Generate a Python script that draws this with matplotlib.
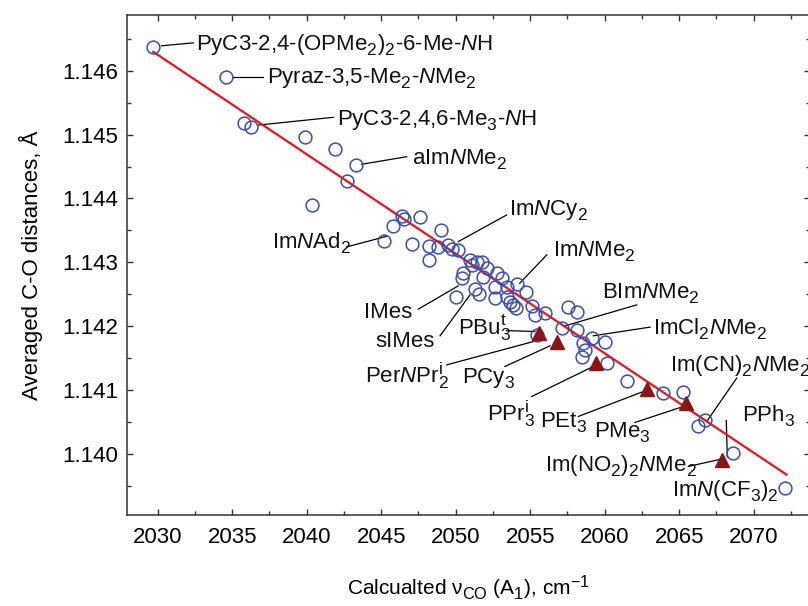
import matplotlib
matplotlib.use("Agg")
import matplotlib.pyplot as plt
import matplotlib._mathtext as mtext
from matplotlib.ticker import MultipleLocator, FormatStrFormatter

plt.rcParams["font.family"] = ["Liberation Sans", "DejaVu Sans"]
plt.rcParams["mathtext.fontset"] = "custom"
plt.rcParams["mathtext.rm"] = "Liberation Sans"
plt.rcParams["mathtext.it"] = "Liberation Sans:italic"
plt.rcParams["mathtext.bf"] = "Liberation Sans:bold"
# the original uses larger, lower-set subscripts
mtext.SHRINK_FACTOR = 0.78
mtext.FontConstantsBase.sub1 = 0.45

# open circles (carbene / N-donor ligands)
circ_x = [2029.70, 2034.56, 2035.81, 2036.26, 2039.89, 2041.90, 2043.31, 2042.68, 2040.34,
          2046.38, 2046.53, 2047.60, 2045.81, 2045.21, 2047.09, 2048.99, 2048.23, 2048.21,
          2048.83, 2049.50, 2049.73, 2050.17, 2050.51, 2050.40, 2050.96, 2051.07, 2051.41,
          2051.74, 2052.12, 2051.85, 2051.30, 2051.58, 2050.00, 2052.75, 2053.09, 2052.64,
          2053.42, 2054.09, 2054.72, 2052.64, 2053.42, 2053.87, 2055.10, 2055.32, 2055.99,
          2055.44, 2057.56, 2058.12, 2057.11, 2058.12, 2059.13, 2060.02, 2058.56, 2058.69,
          2058.46, 2060.13, 2061.48, 2063.93, 2065.27, 2066.28, 2066.73, 2068.63, 2072.10,
          2054.05, 2053.65]
circ_y = [1.146372, 1.145894, 1.145175, 1.145113, 1.144966, 1.144769, 1.144523, 1.144273, 1.143898,
          1.143727, 1.143675, 1.143706, 1.143575, 1.143336, 1.143284, 1.143508, 1.143258, 1.143039,
          1.143247, 1.143273, 1.143206, 1.143195, 1.142831, 1.142753, 1.143039, 1.142961, 1.143013,
          1.143013, 1.142919, 1.142778, 1.142586, 1.142508, 1.142456, 1.142831, 1.142753, 1.142622,
          1.142622, 1.142659, 1.142544, 1.142441, 1.142466, 1.142336, 1.142320, 1.142180, 1.142206,
          1.141867, 1.142309, 1.142231, 1.141972, 1.141945, 1.141816, 1.141763, 1.141738, 1.141633,
          1.141528, 1.141425, 1.141138, 1.140956, 1.140981, 1.140434, 1.140528, 1.140019, 1.139472,
          1.142290, 1.142380]

# filled triangles (phosphines)
tri_x = [2055.61, 2056.78, 2059.40, 2062.82, 2065.44, 2067.85]
tri_y = [1.141903, 1.141763, 1.141425, 1.141019, 1.140800, 1.139903]

# linear fit
fit_x = [2029.70, 2072.21]
fit_y = [1.146294, 1.139680]

# label text, text anchor (left, baseline), leader line start/end
labels = [
    (r"PyC3-2,4-(OPMe$_2$)$_2$-6-Me-$N$H", (2032.57, 1.146320), (2030.27, 1.146388), (2032.39, 1.146434)),
    (r"Pyraz-3,5-Me$_2$-$N$Me$_2$", (2037.31, 1.145800), (2035.08, 1.145894), (2037.10, 1.145894)),
    (r"PyC3-2,4,6-Me$_3$-$N$H", (2042.01, 1.145133), (2036.74, 1.145148), (2041.78, 1.145269)),
    (r"aIm$N$Me$_2$", (2047.05, 1.144534), (2043.69, 1.144535), (2046.71, 1.144653)),
    (r"Im$N$Ad$_2$", (2037.70, 1.143222), (2042.68, 1.143242), (2045.37, 1.143409)),
    (r"Im$N$Cy$_2$", (2053.60, 1.143727), (2050.17, 1.143325), (2053.42, 1.143742)),
    (r"Im$N$Me$_2$", (2056.55, 1.143091), (2054.30, 1.142675), (2056.11, 1.143117)),
    ("IMes", (2043.85, 1.142128), (2047.49, 1.142269), (2050.17, 1.142633)),
    ("sIMes", (2044.60, 1.141684), (2048.95, 1.141852), (2050.96, 1.142492)),
    (r"PBu$_3^{\mathrm{t}}$", (2050.17, 1.141867), (2053.42, 1.141934), (2055.32, 1.141919)),
    (r"Per$N$Pr$_2^{\mathrm{i}}$", (2043.91, 1.141112), (2049.40, 1.141398), (2055.21, 1.141762)),
    (r"PCy$_3$", (2050.44, 1.141112), (2053.30, 1.141372), (2056.33, 1.141695)),
    (r"PPr$_3^{\mathrm{i}}$", (2052.08, 1.140513), (2055.10, 1.140903), (2059.15, 1.141363)),
    (r"PEt$_3$", (2055.66, 1.140409), (2058.23, 1.140591), (2062.59, 1.140981)),
    (r"PMe$_3$", (2059.28, 1.140253), (2062.03, 1.140497), (2065.28, 1.140747)),
    (r"BIm$N$Me$_2$", (2059.80, 1.142441), (2057.34, 1.142008), (2062.15, 1.142336)),
    (r"ImCl$_2$$N$Me$_2$", (2063.26, 1.141867), (2059.23, 1.141852), (2063.04, 1.141988)),
    (r"Im(CN)$_2$$N$Me$_2$", (2064.38, 1.141294), (2066.85, 1.140513), (2068.86, 1.141191)),
    (r"PPh$_3$", (2069.21, 1.140513), (2068.16, 1.140528), (2068.23, 1.139956)),
    (r"Im(NO$_2$)$_2$$N$Me$_2$", (2055.99, 1.139731), (2065.61, 1.139809), (2067.85, 1.139925)),
    (r"Im$N$(CF$_3$)$_2$", (2064.50, 1.139341), None, None),
]

fig = plt.figure(figsize=(8.08, 6.06), dpi=100)
ax = fig.add_axes([0.1568, 0.1502, 0.8457, 0.8251])

ax.plot(fit_x, fit_y, color="#e8131b", lw=1.6, zorder=2)
ax.plot(circ_x, circ_y, "o", ms=9.2, mfc="none", mec="#3a4db0", mew=1.1, zorder=3)
ax.plot(tri_x, tri_y, "^", ms=10.5, color="#8b1414", mec="#8b1414", zorder=4)

for txt, tpos, p0, p1 in labels:
    if p0 is not None:
        ax.plot([p0[0], p1[0]], [p0[1], p1[1]], color="black", lw=0.9, zorder=1)
    ax.text(tpos[0], tpos[1], txt, fontsize=16, ha="left", va="baseline", color="#111111")

ax.set_xlim(2027.92, 2073.78)
ax.set_ylim(1.13905, 1.14687)
ax.xaxis.set_major_locator(MultipleLocator(5))
ax.xaxis.set_minor_locator(MultipleLocator(2.5))
ax.yaxis.set_major_locator(MultipleLocator(0.001))
ax.yaxis.set_minor_locator(MultipleLocator(0.0005))
ax.yaxis.set_major_formatter(FormatStrFormatter("%.3f"))
ax.tick_params(which="both", direction="in", top=True, right=True, color="#333333", width=1.0)
ax.tick_params(which="major", length=4.5)
ax.tick_params(which="minor", length=3)
ax.tick_params(axis="x", which="major", labelsize=16, pad=9)
ax.tick_params(axis="y", which="major", labelsize=16, pad=6)
for s in ax.spines.values():
    s.set_color("#333333")
    s.set_linewidth(1.1)

ax.set_xlabel(r"Calcualted ν$_{\mathrm{CO}}$ (A$_1$), cm$^{-1}$", fontsize=15, labelpad=18)
ax.set_ylabel("Averaged C-O distances, Å", fontsize=16, labelpad=14)

fig.savefig("out.png", dpi=100)
